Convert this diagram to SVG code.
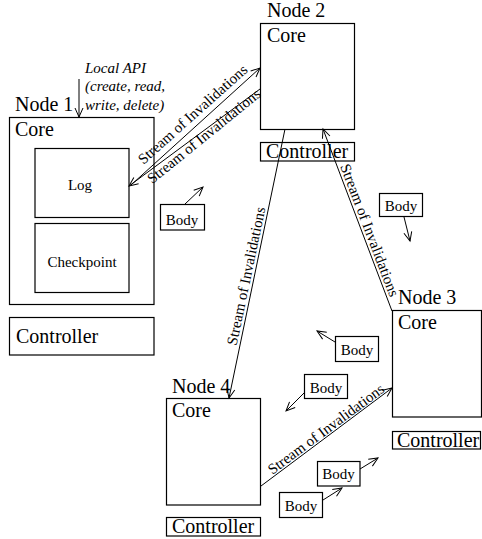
<svg xmlns="http://www.w3.org/2000/svg" width="482" height="539" viewBox="0 0 482 539">
  <style>
    .box { fill: none; stroke: #000; stroke-width: 1.2; }
    .big { font-family: "Liberation Serif", "Times New Roman", serif; font-size: 20px; fill: #000; }
    .small { font-family: "Liberation Serif", "Times New Roman", serif; font-size: 15px; fill: #000; }
    .mid { text-anchor: middle; }
    .api { font-family: "Liberation Serif", "Times New Roman", serif; font-size: 15px; font-style: italic; fill: #000; }
    .wire { fill: none; stroke: #000; stroke-width: 1; marker-end: url(#open); }
  </style>
  <defs>
    <marker id="open" markerUnits="userSpaceOnUse" markerWidth="12" markerHeight="12" viewBox="-10 -6 12 12" refX="0" refY="0" orient="auto">
      <path d="M-9,-4 L0,0 L-9,4" fill="none" stroke="#000" stroke-width="1"/>
    </marker>
  </defs>
  <rect width="482" height="539" fill="#fff"/>

  <!-- Node 1 -->
  <g id="node1">
    <text class="big" x="15" y="111">Node 1</text>
    <rect class="box" x="9.5" y="117.5" width="144.5" height="187"/>
    <text class="big" x="15" y="136">Core</text>
    <rect class="box" x="35" y="148.5" width="94" height="69"/>
    <text class="small mid" x="80" y="190">Log</text>
    <rect class="box" x="35" y="223.5" width="94" height="69"/>
    <text class="small mid" x="82" y="267">Checkpoint</text>
    <rect class="box" x="9.5" y="317.5" width="144.5" height="37.5"/>
    <text class="big" x="16" y="343">Controller</text>
  </g>

  <!-- Local API annotation -->
  <g id="local-api">
    <text class="api" x="85" y="72.5">Local API</text>
    <text class="api" x="85" y="91">(create, read,</text>
    <text class="api" x="85" y="109.5">write, delete)</text>
  </g>

  <!-- Node 2 -->
  <g id="node2">
    <text class="big" x="267" y="17">Node 2</text>
    <rect class="box" x="260.5" y="23.5" width="94" height="106"/>
    <text class="big" x="267" y="42">Core</text>
    <rect class="box" x="260.5" y="142.5" width="94" height="18.5"/>
    <text class="big" x="266" y="158">Controller</text>
  </g>

  <!-- Node 3 -->
  <g id="node3">
    <text class="big" x="398" y="304">Node 3</text>
    <rect class="box" x="392.5" y="310.5" width="89" height="106.5"/>
    <text class="big" x="398" y="329">Core</text>
    <rect class="box" x="392.5" y="431.5" width="88" height="17.5"/>
    <text class="big" x="397" y="447">Controller</text>
  </g>

  <!-- Node 4 -->
  <g id="node4">
    <text class="big" x="172" y="393">Node 4</text>
    <rect class="box" x="166.5" y="398.5" width="94" height="106.5"/>
    <text class="big" x="172" y="417">Core</text>
    <rect class="box" x="166.5" y="517.5" width="94" height="18.5"/>
    <text class="big" x="172" y="533">Controller</text>
  </g>

  <!-- Message bodies in transit -->
  <g id="body1">
    <rect class="box" x="160.5" y="204.5" width="44" height="25.5"/>
    <text class="small mid" x="182" y="225">Body</text>
  </g>
  <g id="body2">
    <rect class="box" x="379.5" y="193.5" width="43" height="23"/>
    <text class="small mid" x="401" y="211">Body</text>
  </g>
  <g id="body3">
    <rect class="box" x="335.5" y="336.5" width="43" height="25"/>
    <text class="small mid" x="357" y="355">Body</text>
  </g>
  <g id="body4">
    <rect class="box" x="304.5" y="374.5" width="43" height="24"/>
    <text class="small mid" x="326" y="393">Body</text>
  </g>
  <g id="body5">
    <rect class="box" x="317.5" y="461.5" width="42.5" height="24.5"/>
    <text class="small mid" x="338.5" y="479">Body</text>
  </g>
  <g id="body6">
    <rect class="box" x="279.5" y="492.5" width="43" height="25"/>
    <text class="small mid" x="301" y="511">Body</text>
  </g>

  <!-- Connectors -->
  <g id="connectors">
    <line class="wire" x1="79" y1="79" x2="79" y2="117"/>
    <line class="wire" x1="131" y1="185" x2="260" y2="68"/>
    <line class="wire" x1="260" y1="89" x2="129" y2="186"/>
    <line class="wire" x1="285" y1="129" x2="229" y2="398"/>
    <line class="wire" x1="392" y1="311" x2="323" y2="129"/>
    <line class="wire" x1="261" y1="486" x2="392" y2="388"/>

    <line class="wire" x1="185" y1="204" x2="203" y2="187"/>
    <line class="wire" x1="404" y1="217" x2="410" y2="241"/>
    <line class="wire" x1="335" y1="342" x2="317" y2="331"/>
    <line class="wire" x1="304" y1="393" x2="286" y2="411"/>
    <line class="wire" x1="360" y1="469" x2="378" y2="458"/>
    <line class="wire" x1="323" y1="500" x2="342" y2="488"/>

    <text class="small mid" transform="translate(196,118) rotate(-41.8)">Stream of Invalidations</text>
    <text class="small mid" transform="translate(207,140) rotate(-39)">Stream of Invalidations</text>
    <text class="small mid" transform="translate(251,277) rotate(-78.2)">Stream of Invalidations</text>
    <text class="small mid" transform="translate(365,232) rotate(69.2)">Stream of Invalidations</text>
    <text class="small mid" transform="translate(329,433) rotate(-36.6)">Stream of Invalidations</text>
  </g>
</svg>
